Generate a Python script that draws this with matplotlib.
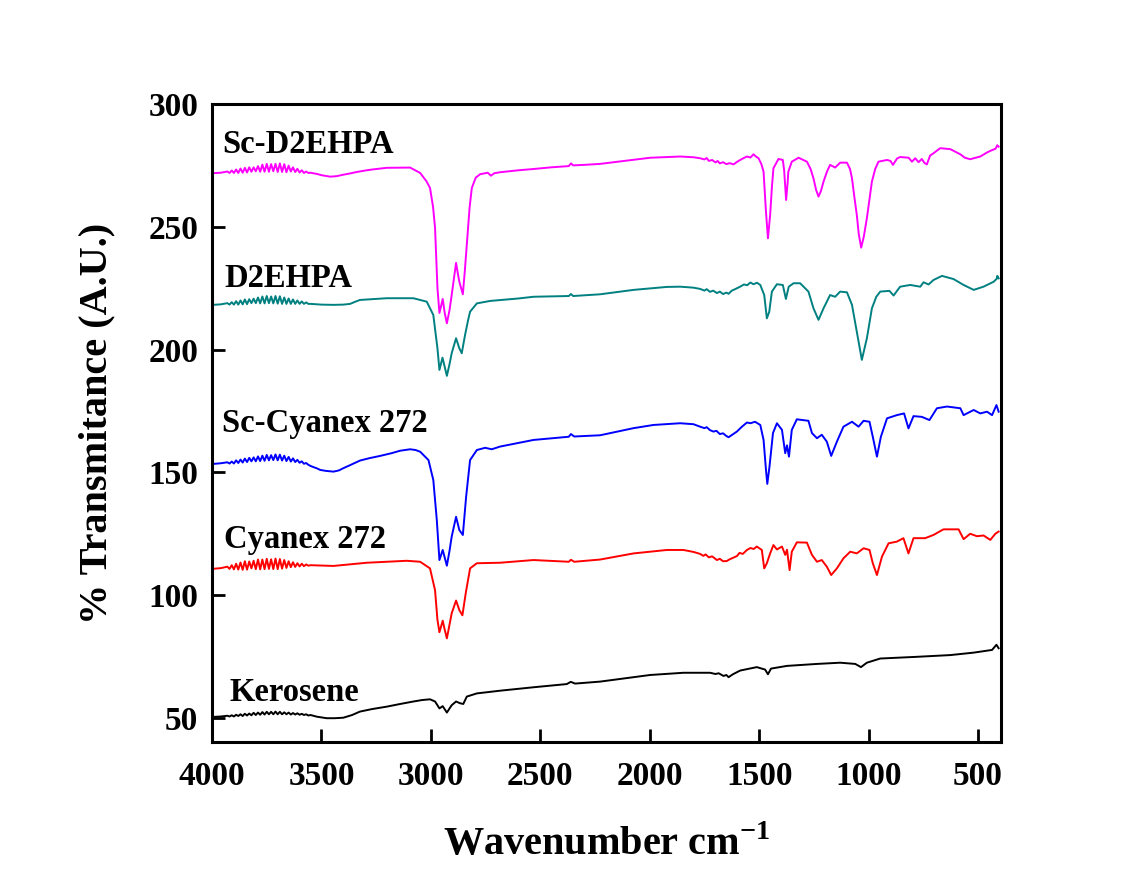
import numpy as np
import matplotlib.pyplot as plt

# ---------------- style ----------------
plt.rcParams['font.family'] = 'serif'
plt.rcParams['font.serif'] = ['Liberation Serif', 'DejaVu Serif']
plt.rcParams['font.weight'] = 'bold'
plt.rcParams['mathtext.fontset'] = 'custom'
plt.rcParams['mathtext.rm'] = 'Liberation Serif:bold'
plt.rcParams['mathtext.bf'] = 'Liberation Serif:bold'

# ---------------- data ----------------
# wavenumber grid of the noisy O-H / water-vapour region, shared by all spectra
noise_wn = [3930, 3920, 3910, 3900, 3890, 3880, 3870, 3860, 3850, 3840,
            3830, 3820, 3810, 3800, 3790, 3780, 3770, 3760, 3750, 3740,
            3730, 3720, 3710, 3700, 3690, 3680, 3670, 3660, 3650, 3640,
            3630, 3620, 3610, 3600, 3590, 3580, 3570, 3560]

sc_d2ehpa_noise = [272.5, 271.9, 272.9, 271.9, 273.3, 271.9, 273.7, 272.0, 274.0, 272.1,
                   274.2, 272.4, 274.2, 272.6, 274.7, 272.4, 275.3, 272.4, 275.6, 272.4,
                   275.5, 272.6, 275.6, 272.3, 275.8, 272.3, 275.5, 272.2, 274.9, 272.5,
                   274.2, 272.3, 273.6, 272.1, 273.0, 271.9, 272.5, 271.9]
d2ehpa_noise = [218.9, 218.3, 219.3, 218.3, 219.7, 218.3, 220.0, 218.4, 220.4, 218.5,
                220.5, 218.9, 220.7, 218.9, 221.2, 218.8, 221.6, 218.8, 221.8, 218.9,
                221.6, 218.8, 221.8, 218.7, 221.7, 218.6, 221.2, 218.6, 220.8, 218.6,
                220.4, 218.6, 220.0, 218.6, 219.6, 218.6, 219.2, 218.6]
sc_cyanex_noise = [154.1, 153.6, 154.4, 153.6, 154.9, 153.8, 155.2, 154.0, 155.6, 154.2,
                   155.9, 154.5, 156.1, 154.5, 156.5, 154.6, 156.8, 154.7, 157.1, 154.9,
                   157.0, 155.0, 157.3, 154.9, 157.2, 154.8, 156.8, 154.6, 156.3, 154.4,
                   155.7, 154.2, 155.1, 153.9, 154.5, 153.5, 153.8, 153.1]
cyanex_noise = [111.6, 110.7, 112.2, 110.5, 112.8, 110.4, 113.3, 110.3, 113.8, 110.4,
                113.7, 110.9, 114.0, 110.6, 114.5, 110.5, 114.5, 110.6, 114.8, 110.7,
                114.6, 110.6, 114.9, 110.6, 114.7, 110.8, 114.3, 111.1, 113.8, 111.4,
                113.4, 111.5, 113.0, 111.7, 112.8, 111.8, 112.5, 112.0]
kerosene_noise = [50.9, 50.6, 51.1, 50.6, 51.3, 50.8, 51.5, 50.8, 51.7, 51.0,
                  51.8, 51.1, 52.1, 51.2, 52.2, 51.3, 52.4, 51.4, 52.5, 51.5,
                  52.5, 51.5, 52.6, 51.5, 52.5, 51.5, 52.3, 51.5, 52.2, 51.4,
                  52.0, 51.4, 51.9, 51.3, 51.7, 51.2, 51.5, 51.0]

# (wavenumber, transmittance) for the rest of each spectrum
sc_d2ehpa = [(4000, 271.8), (3960, 272.0), (3550, 272.0), (3520, 271.5), (3500, 271.0),
             (3461, 270.4), (3430, 270.6), (3400, 271.2), (3370, 271.7), (3339, 272.3),
             (3300, 272.9), (3270, 273.3), (3202, 274.0), (3095, 274.1),
             (3049, 271.9), (3020, 268.5), (3004, 265.8), (2990, 258.0), (2981, 249.5),
             (2970, 225.0), (2961, 214.9), (2953, 218.0), (2946, 220.6), (2937, 215.0),
             (2927, 210.7), (2915, 216.0), (2905, 222.2), (2893, 230.0), (2885, 235.3),
             (2877, 231.0), (2870, 227.6), (2854, 222.5), (2845, 232.0), (2836, 242.6),
             (2823, 258.0), (2813, 265.8), (2795, 270.0), (2775, 271.4), (2740, 272.0),
             (2726, 270.8), (2710, 271.8), (2684, 272.2), (2600, 273.0), (2533, 273.5),
             (2450, 274.2), (2370, 274.7), (2360, 275.8), (2350, 275.0), (2300, 275.2),
             (2227, 275.6), (2100, 277.0), (1998, 278.1), (1861, 278.6), (1800, 278.3),
             (1770, 277.9), (1750, 277.4), (1740, 278.0), (1730, 276.8), (1715, 277.2),
             (1700, 276.2), (1690, 276.8), (1680, 275.8), (1665, 276.3), (1650, 275.5),
             (1635, 275.9), (1617, 275.4), (1600, 276.5), (1585, 277.3), (1570, 278.0),
             (1556, 278.6), (1540, 278.2), (1526, 279.5), (1515, 278.6), (1503, 277.9),
             (1490, 275.5), (1480, 272.4), (1469, 256.1), (1460, 245.3), (1450, 254.8),
             (1442, 266.0), (1435, 273.8), (1412, 277.6), (1392, 277.2), (1386, 273.0),
             (1377, 260.9), (1370, 268.0), (1367, 272.4), (1351, 276.5), (1320, 278.1),
             (1282, 276.5), (1265, 273.5), (1252, 269.7), (1240, 265.0), (1229, 262.3),
             (1218, 264.5), (1206, 268.4), (1190, 272.5), (1176, 275.2), (1153, 274.1),
             (1130, 276.1), (1099, 276.1), (1085, 273.5), (1076, 269.7), (1065, 262.0),
             (1054, 254.8), (1045, 247.0), (1034, 241.5), (1022, 246.0), (1008, 253.5),
             (995, 262.0), (985, 268.4), (970, 273.5), (955, 276.5), (916, 277.2),
             (900, 276.8), (889, 275.2), (870, 277.8), (856, 278.4), (817, 278.1),
             (802, 276.5), (787, 277.9), (772, 276.3), (757, 277.6), (745, 276.0),
             (734, 275.4), (719, 279.0), (704, 279.9), (673, 282.0), (627, 281.6),
             (581, 279.5), (560, 278.1), (536, 277.5), (490, 278.6), (460, 280.2),
             (444, 280.9), (420, 281.8), (412, 283.2), (406, 282.6)]

d2ehpa = [(4000, 218.2), (3960, 218.4), (3550, 218.6), (3500, 218.3), (3445, 218.2),
          (3400, 218.3), (3369, 218.6), (3345, 219.5), (3324, 220.2), (3202, 220.9),
          (3080, 220.9), (3019, 219.5),
          (2989, 214.1), (2970, 200.5), (2961, 191.7), (2947, 196.7), (2937, 193.0),
          (2927, 189.3), (2915, 194.0), (2905, 198.5), (2885, 204.6), (2870, 200.5),
          (2859, 198.5), (2844, 205.9), (2830, 212.0), (2821, 215.4), (2790, 218.8),
          (2729, 219.8), (2600, 220.8), (2531, 221.5), (2370, 221.8), (2360, 222.6),
          (2350, 221.8), (2227, 222.5), (2074, 224.3), (1922, 225.5), (1861, 225.6),
          (1800, 225.2), (1770, 224.7), (1750, 224.0), (1740, 224.6), (1725, 223.5),
          (1710, 224.0), (1693, 223.0), (1680, 223.6), (1665, 222.6), (1650, 223.2),
          (1640, 222.7), (1625, 224.0), (1610, 224.6), (1587, 225.6), (1570, 226.5),
          (1555, 226.2), (1540, 227.3), (1526, 226.6), (1510, 227.2), (1495, 226.3),
          (1477, 222.2), (1465, 212.7), (1454, 215.4), (1442, 223.6), (1419, 226.6),
          (1392, 226.3), (1378, 220.6), (1365, 225.6), (1343, 227.0), (1313, 227.0),
          (1275, 223.6), (1252, 216.8), (1229, 212.1), (1206, 216.8), (1176, 222.2),
          (1153, 221.5), (1130, 223.6), (1099, 223.3), (1076, 218.2), (1054, 207.3),
          (1031, 195.8), (1008, 204.6), (985, 216.8), (965, 221.5), (947, 223.6),
          (905, 223.9), (886, 222.0), (856, 225.6), (810, 226.3), (764, 225.6),
          (749, 227.4), (726, 226.5), (704, 228.3), (665, 230.0), (612, 228.7),
          (566, 226.3), (520, 224.3), (475, 225.6), (429, 227.6), (415, 228.8),
          (412, 230.0), (406, 229.0)]

sc_cyanex = [(4000, 153.4), (3960, 153.7), (3550, 152.6), (3520, 151.6), (3506, 151.0),
             (3480, 150.6), (3445, 150.3), (3420, 150.8), (3400, 151.7), (3370, 152.9),
             (3324, 154.8), (3280, 155.8), (3232, 156.7), (3180, 157.8), (3141, 158.8),
             (3095, 159.4), (3070, 159.1),
             (3049, 158.4), (3011, 155.0), (2989, 146.9), (2973, 130.6), (2961, 114.3),
             (2946, 118.4), (2927, 112.0), (2915, 118.0), (2905, 123.8), (2885, 131.9),
             (2870, 126.5), (2854, 124.5), (2839, 140.1), (2821, 155.0), (2790, 159.1),
             (2752, 160.0), (2722, 159.4), (2684, 160.5), (2531, 163.2), (2370, 164.5),
             (2360, 165.6), (2345, 164.6), (2227, 165.1), (2074, 168.0), (1983, 169.3),
             (1861, 170.0), (1800, 169.6), (1770, 168.6), (1750, 168.0), (1740, 168.4),
             (1725, 167.2), (1709, 166.6), (1695, 166.9), (1680, 165.6), (1665, 165.9),
             (1650, 164.8), (1640, 164.3), (1625, 165.2), (1602, 166.6), (1580, 168.5),
             (1556, 170.3), (1540, 170.0), (1519, 170.6), (1495, 169.3), (1480, 163.2),
             (1469, 151.0), (1463, 145.3), (1453, 152.3), (1437, 166.0), (1419, 170.0),
             (1396, 167.3), (1381, 157.8), (1373, 161.0), (1364, 156.4), (1351, 167.3),
             (1328, 171.6), (1275, 171.0), (1259, 166.0), (1236, 163.9), (1214, 165.3),
             (1191, 162.5), (1171, 156.7), (1145, 162.5), (1115, 168.6), (1076, 170.6),
             (1046, 168.6), (1023, 171.0), (996, 170.6), (981, 164.5), (962, 156.4),
             (944, 164.5), (916, 172.0), (871, 173.3), (838, 174.0), (818, 167.9),
             (795, 172.9), (757, 172.6), (722, 171.3), (688, 176.1), (642, 176.8),
             (581, 176.1), (566, 173.3), (520, 175.4), (490, 174.0), (459, 174.7),
             (436, 173.3), (416, 177.4), (406, 174.7)]

cyanex = [(4000, 110.7), (3960, 111.0), (3550, 112.2), (3445, 111.9), (3293, 113.2),
          (3110, 114.0), (3049, 113.6), (3004, 110.9), (2981, 102.0), (2970, 89.9),
          (2961, 84.9), (2946, 89.6), (2937, 86.0), (2927, 82.4), (2915, 88.0),
          (2905, 92.6), (2885, 97.8), (2870, 93.9), (2856, 91.8), (2841, 100.7),
          (2821, 110.9), (2790, 113.0), (2684, 113.2), (2531, 114.3), (2370, 113.6),
          (2360, 114.4), (2345, 113.6), (2227, 114.5), (2074, 117.0), (1922, 118.4),
          (1846, 118.4), (1800, 117.6), (1770, 116.8), (1755, 116.0), (1745, 116.6),
          (1730, 115.4), (1715, 115.8), (1693, 114.3), (1680, 114.8), (1665, 113.8),
          (1648, 113.9), (1635, 114.6), (1620, 115.2), (1602, 115.9), (1590, 117.2),
          (1575, 116.8), (1556, 118.4), (1540, 119.2), (1525, 118.8), (1511, 119.8),
          (1488, 118.4), (1477, 110.9), (1465, 113.0), (1450, 117.0), (1435, 120.4),
          (1419, 118.6), (1396, 119.8), (1381, 116.4), (1373, 118.5), (1361, 110.2),
          (1351, 117.7), (1328, 121.5), (1282, 121.4), (1259, 116.4), (1236, 113.6),
          (1214, 114.3), (1191, 111.6), (1171, 108.2), (1145, 110.9), (1115, 115.0),
          (1084, 117.7), (1054, 117.0), (1023, 119.1), (996, 118.4), (981, 113.0),
          (962, 108.2), (939, 115.7), (909, 121.1), (871, 121.8), (841, 123.2),
          (818, 117.0), (795, 123.2), (742, 123.2), (704, 124.5), (658, 126.8),
          (589, 126.8), (566, 122.8), (536, 125.0), (505, 124.0), (475, 124.3),
          (444, 122.5), (421, 125.0), (406, 125.9)]

kerosene = [(4000, 50.4), (3960, 50.6), (3550, 51.2), (3520, 50.5), (3476, 49.9),
            (3440, 49.9), (3400, 50.1), (3360, 51.2), (3324, 52.6), (3270, 53.6),
            (3202, 54.6), (3140, 55.7), (3080, 56.7), (3040, 57.3), (3004, 57.6),
            (2981, 56.7),
            (2961, 53.9), (2946, 54.8), (2927, 52.2), (2905, 55.2), (2885, 56.7),
            (2867, 56.0), (2852, 55.7), (2836, 58.7), (2790, 60.0), (2684, 61.1),
            (2531, 62.5), (2379, 63.8), (2361, 64.7), (2341, 64.0), (2227, 64.8),
            (1998, 67.5), (1846, 68.4), (1724, 68.4), (1700, 67.9), (1685, 68.2),
            (1663, 67.1), (1650, 67.5), (1640, 66.6), (1620, 67.8), (1587, 69.3),
            (1511, 70.7), (1473, 69.7), (1460, 67.8), (1446, 70.1), (1373, 71.2),
            (1236, 72.0), (1130, 72.5), (1061, 72.0), (1035, 70.7), (1008, 72.5),
            (947, 74.2), (779, 74.9), (627, 75.6), (520, 76.6), (436, 77.7),
            (416, 79.8), (406, 78.4)]

samples = ['Sc-D2EHPA', 'D2EHPA', 'Sc-Cyanex 272', 'Cyanex 272', 'Kerosene']
colors = ['#FF00FF', '#008080', '#0000FF', '#FF0000', '#000000']
label_pos = [(3955, 283.3), (3945, 229.0), (3955, 169.7), (3945, 122.5), (3920, 60.2)]


def merge(points, noise):
    pts = sorted(list(points) + list(zip(noise_wn, noise)), reverse=True)
    wn, t = zip(*pts)
    return np.array(wn), np.array(t)


spectra = [merge(sc_d2ehpa, sc_d2ehpa_noise),
           merge(d2ehpa, d2ehpa_noise),
           merge(sc_cyanex, sc_cyanex_noise),
           merge(cyanex, cyanex_noise),
           merge(kerosene, kerosene_noise)]

# ---------------- figure ----------------
fig = plt.figure(figsize=(11.43, 8.84), dpi=100)
ax = fig.add_axes([0.1855, 0.1606, 0.6903, 0.7218])

for (wn, t), name, c, (lx, ly) in zip(spectra, samples, colors, label_pos):
    ax.plot(wn, t, color=c, linewidth=1.4)
    ax.text(lx, ly, name, color='black', fontsize=23.5, fontweight='bold',
            ha='left', va='center')

ax.set_xlim(4000, 395)
ax.set_ylim(40.2, 300)
ax.set_xticks([4000, 3500, 3000, 2500, 2000, 1500, 1000, 500])
ax.set_yticks([50, 100, 150, 200, 250, 300])

for s in ax.spines.values():
    s.set_linewidth(2.2)
ax.tick_params(axis='both', which='major', direction='in', length=9.5, width=2,
               labelsize=24, pad=10)
ax.tick_params(axis='x', pad=14)
ax.tick_params(top=False, right=False)

ax.set_xlabel(r'Wavenumber cm$^{\mathregular{-1}}$', fontsize=29,
              fontweight='bold', labelpad=24)
ax.set_ylabel('% Transmitance (A.U.)', fontsize=29, fontweight='bold', labelpad=24)

fig.savefig('out.png', dpi=100)
